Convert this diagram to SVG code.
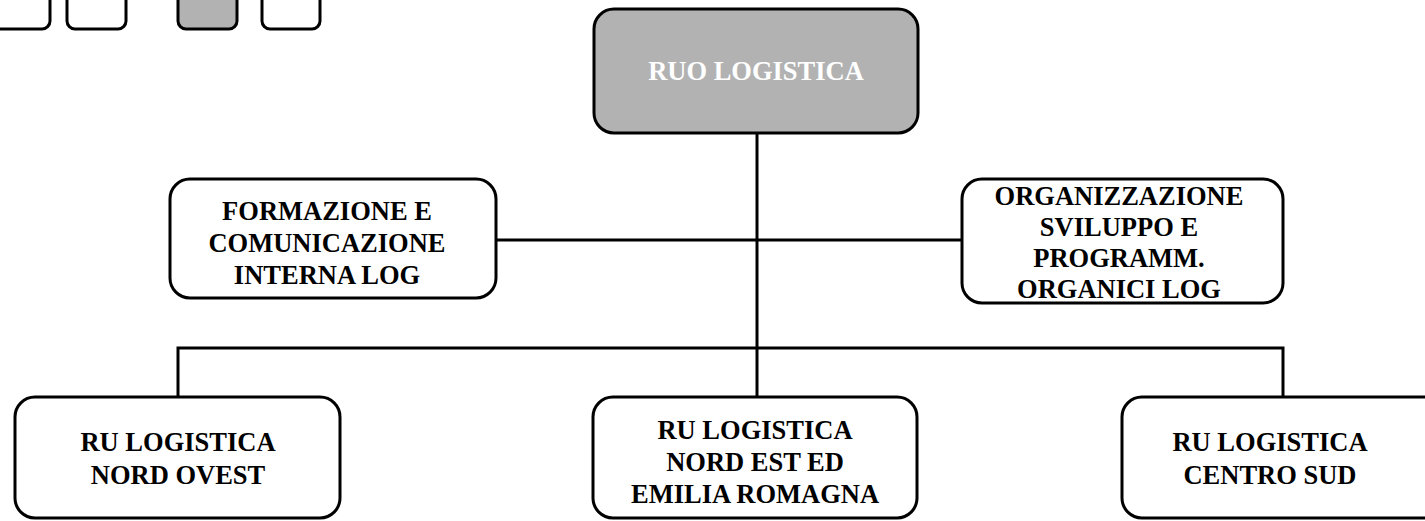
<svg xmlns="http://www.w3.org/2000/svg" width="1425" height="521" viewBox="0 0 1425 521">
<style>
.box{fill:#fff;stroke:#000;stroke-width:3}
.grey{fill:#b2b2b2;stroke:#000;stroke-width:3}
.t{font-family:"Liberation Serif","Times New Roman",serif;font-weight:bold;font-size:26.5px;fill:#000;text-anchor:middle}
.w{fill:#fff}
.c{stroke:#000;stroke-width:3;fill:none}
</style>
<rect width="1425" height="521" fill="#fff"/>
<g id="top-fragments">
<rect class="box" x="-12" y="-40" width="62" height="69" rx="8"/>
<rect class="box" x="67" y="-40" width="59" height="69" rx="8"/>
<rect class="grey" x="178" y="-40" width="59" height="69" rx="8"/>
<rect class="box" x="262" y="-40" width="58" height="69" rx="8"/>
</g>
<g id="connectors">
<path class="c" d="M757 133 V348"/>
<path class="c" d="M495 240 H962"/>
<path class="c" d="M178 397 V348 H1283 V397"/>
<path class="c" d="M757 348 V397"/>
</g>
<g id="ruo">
<rect class="grey" x="594" y="9" width="324" height="124" rx="20"/>
<text class="t w" x="756" y="80" font-size="26">RUO LOGISTICA</text>
</g>
<g id="formazione">
<rect class="box" x="170" y="179" width="326" height="119" rx="20"/>
<text class="t" x="327" y="220">FORMAZIONE E</text>
<text class="t" x="327" y="252">COMUNICAZIONE</text>
<text class="t" x="327" y="284">INTERNA LOG</text>
</g>
<g id="organizzazione">
<rect class="box" x="962" y="179" width="321" height="124" rx="20"/>
<text class="t" x="1119" y="205">ORGANIZZAZIONE</text>
<text class="t" x="1119" y="236">SVILUPPO E</text>
<text class="t" x="1119" y="267">PROGRAMM.</text>
<text class="t" x="1119" y="298">ORGANICI LOG</text>
</g>
<g id="nord-ovest">
<rect class="box" x="15" y="397" width="325" height="121" rx="20"/>
<text class="t" x="178" y="451">RU LOGISTICA</text>
<text class="t" x="178" y="484">NORD OVEST</text>
</g>
<g id="nord-est">
<rect class="box" x="593" y="397" width="324" height="121" rx="20"/>
<text class="t" x="755" y="439">RU LOGISTICA</text>
<text class="t" x="755" y="471">NORD EST ED</text>
<text class="t" x="755" y="503">EMILIA ROMAGNA</text>
</g>
<g id="centro-sud">
<rect class="box" x="1122" y="397" width="325" height="121" rx="20"/>
<text class="t" x="1270" y="451">RU LOGISTICA</text>
<text class="t" x="1270" y="484">CENTRO SUD</text>
</g>
</svg>
